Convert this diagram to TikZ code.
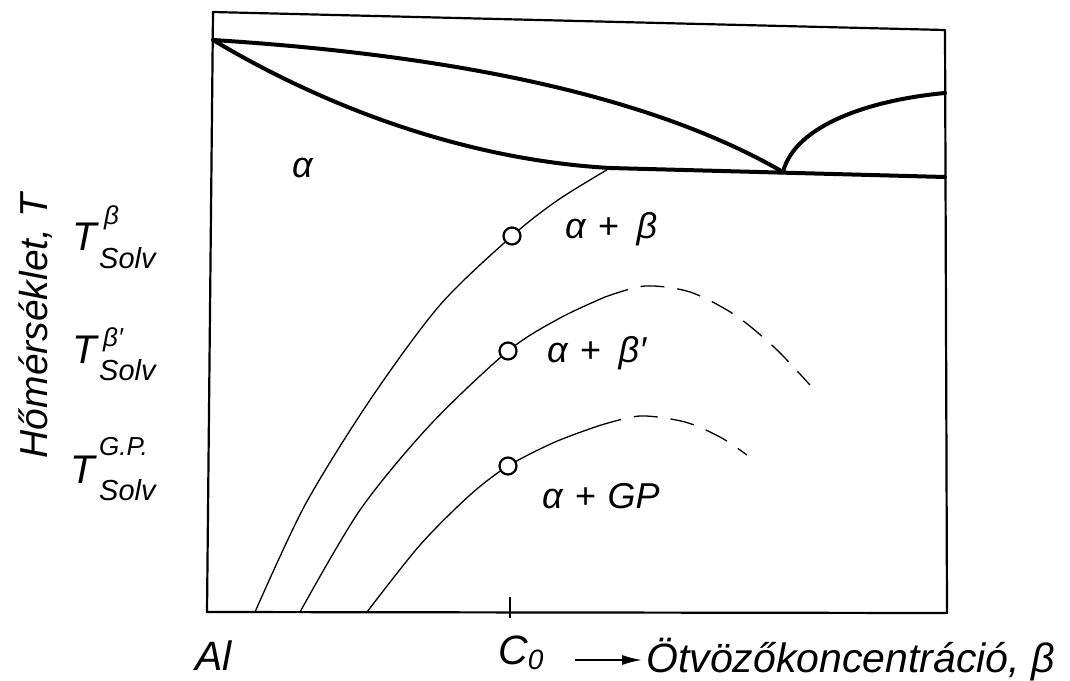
\documentclass[tikz,border=0pt]{standalone}
\usepackage{fontspec}
\setmainfont{Liberation Sans}
\usetikzlibrary{arrows.meta}
\begin{document}
\begin{tikzpicture}[x=1pt,y=-1pt,
  framel/.style={line width=2.2pt,line join=round},
  thickl/.style={line width=4pt,line cap=round,line join=round},
  thinl/.style={line width=1.3pt},
  dashl/.style={line width=1.3pt,dash pattern=on 24pt off 13pt},
  ring/.style={circle,draw,line width=2.2pt,fill=white,minimum size=17pt,inner sep=0pt},
  lbl/.style={font=\itshape\fontsize{36}{40}\selectfont,inner sep=0pt,anchor=base west},
  axl/.style={font=\itshape\fontsize{41}{44}\selectfont,inner sep=0pt,anchor=base west},
  bigT/.style={font=\itshape\fontsize{40}{44}\selectfont,inner sep=0pt,anchor=base west},
  subl/.style={font=\itshape\fontsize{29}{32}\selectfont,inner sep=0pt,anchor=base west},
  supl/.style={font=\itshape\fontsize{26}{30}\selectfont,inner sep=0pt,anchor=base west}]
\useasboundingbox (0,0) rectangle (1070,680);
% frame
\draw[framel] (213,12) -- (945,30) -- (947,613) -- (207,612) -- cycle;
% liquidus / solidus (thick)
\draw[thickl] (213,40) .. controls (450,55) and (650,95) .. (783,172);
\draw[thickl] (213,40) .. controls (330,110) and (470,160) .. (610,168) -- (945,177);
\draw[thickl] (783,172) .. controls (795,125) and (870,100) .. (945,93);
% solvus beta
\draw[thinl] plot[smooth] coordinates {(610,168) (558,200) (512,236) (440,305) (370,400) (305,505) (255,612)};
% solvus beta'
\draw[thinl] plot[smooth] coordinates {(300,612) (360,510) (430,425) (508,351) (560,318) (605,297)};
\draw[dashl] plot[smooth] coordinates {(605,297) (645,286) (690,292) (735,315) (775,348) (810,385)};
% solvus GP
\draw[thinl] plot[smooth] coordinates {(367,612) (420,545) (470,495) (508,466) (555,442) (598,426)};
\draw[dashl] plot[smooth] coordinates {(598,426) (640,416) (685,422) (720,437) (747,455)};
% rings
\node[ring] (c1) at (512,236) {};
\node[ring] (c2) at (508,351) {};
\node[ring] (c3) at (508,466) {};
% tick
\coordinate (tk1) at (510,597);
\coordinate (tk2) at (510,618);
\draw[line width=1.5pt] (tk1) -- (tk2);
% region labels
\node[lbl] (la) at (292,177) {α};
\node[lbl] (lab) at (565,238) {α\,\,+\,\,\,β};
\node[lbl] (labp) at (547,362) {α\,\,+\,\,\,β′};
\node[lbl] (lagp) at (542,508) {α\,\,+\,\,GP};
% left labels
\node[bigT] (t1) at (72,250) {T};
\node[supl] (s1) at (104,224) {β};
\node[subl] (b1) at (99,268) {Solv};
\node[bigT] (t2) at (72,363) {T};
\node[supl] (s2) at (103,346) {β′};
\node[subl] (b2) at (99,380) {Solv};
\node[bigT] (t3) at (70,483) {T};
\node[supl] (s3) at (99,455) {G.P.};
\node[subl] (b3) at (99,500) {Solv};
\node[axl,font=\itshape\fontsize{39}{44}\selectfont,rotate=90,anchor=base] (ylab) at (47,326) {Hőmérséklet, T};
% bottom
\node[axl] (al) at (195,670) {Al};
\node[axl] (c0) at (498,664) {C\raisebox{-5pt}{\fontsize{28}{30}\selectfont 0}};
\coordinate (ar1) at (575,660);
\coordinate (ar2) at (642,660);
\draw[line width=1.8pt,-{Latex[length=20pt,width=10pt]}] (ar1) -- (ar2);
\node[axl] (xlab) at (646,672) {Ötvözőkoncentráció, β};
\end{tikzpicture}
\end{document}
